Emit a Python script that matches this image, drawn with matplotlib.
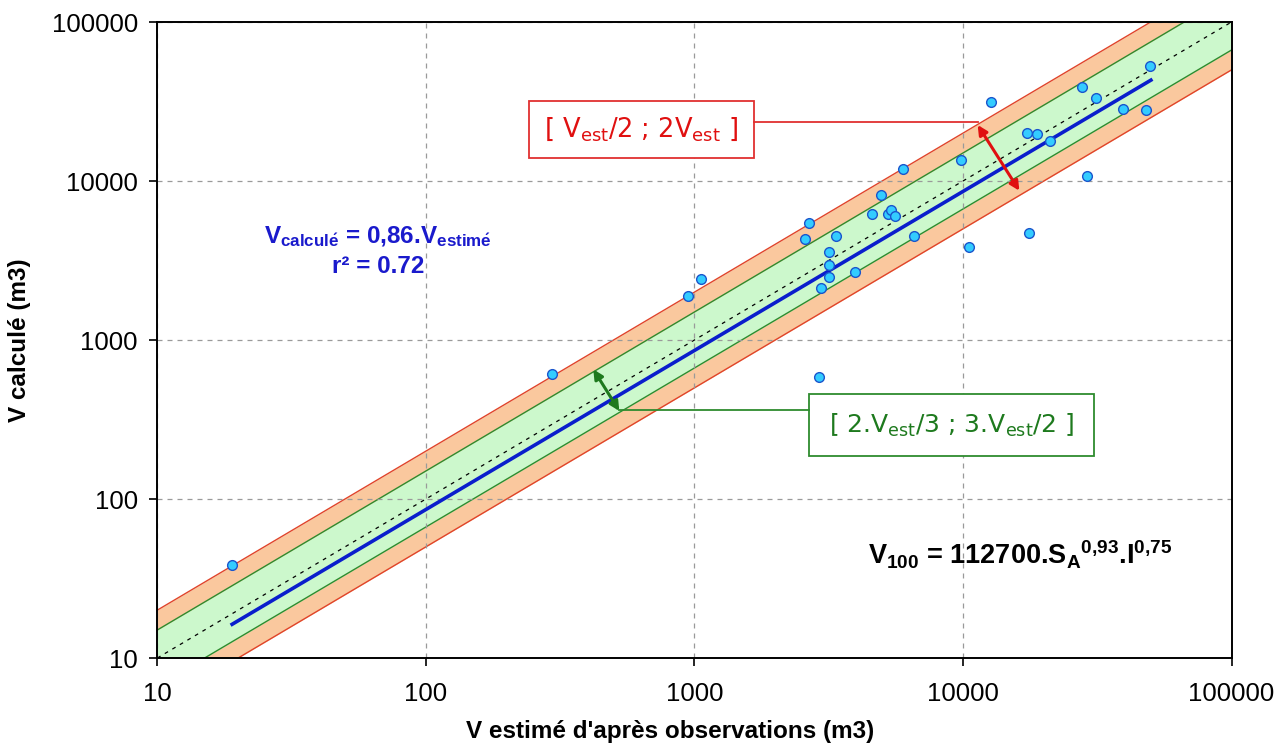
import numpy as np
import matplotlib
matplotlib.use("Agg")
import matplotlib.pyplot as plt
from matplotlib.patches import Rectangle

plt.rcParams["font.family"] = ["Liberation Sans", "DejaVu Sans"]
plt.rcParams["mathtext.fontset"] = "custom"
plt.rcParams["mathtext.rm"] = "Liberation Sans"
plt.rcParams["mathtext.bf"] = "Liberation Sans:bold"
plt.rcParams["mathtext.it"] = "Liberation Sans:italic"

# observed vs computed volumes (m3)
v_est = [19, 296, 950, 1057, 2584, 2672, 2958, 2900, 3170, 3184, 3184, 3373,
         3963, 4580, 4960, 5240, 5390, 5590, 5957, 6545, 9830, 10520, 12700,
         17380, 17580, 18840, 21130, 27730, 28970, 31330, 39600, 47860, 49890]
v_calc = [38.5, 610, 1900, 2420, 4340, 5420, 2113, 585, 2964, 3575, 2500, 4510,
          2666, 6220, 8170, 6200, 6580, 6030, 11850, 4510, 13600, 3866, 31550,
          20140, 4690, 19680, 17910, 39170, 10740, 33440, 28510, 27990, 52850]

# regression V_calc = 0.86 V_est
fit_x = [19, 50100]
fit_y = [16.3, 43100]

# envelope lines (factor on V_est)
band_x = np.array([10, 100000])
outer = (0.5, 2.0)
inner = (2 / 3, 1.5)

ticks = [10, 100, 1000, 10000, 100000]
tick_labels = ["10", "100", "1000", "10000", "100000"]

fig = plt.figure(figsize=(12.87, 7.51), dpi=100)
ax = fig.add_axes([0.1222, 0.1238, 0.8347, 0.8469])
ax.set_xscale("log")
ax.set_yscale("log")

ax.fill_between(band_x, band_x * outer[0], band_x * outer[1], color="#FAC89E", lw=0, zorder=1)
ax.fill_between(band_x, band_x * inner[0], band_x * inner[1], color="#CCF8CC", lw=0, zorder=1.1)
for f in outer:
    ax.plot(band_x, band_x * f, color="#E0442A", lw=1.0, zorder=2)
for f in inner:
    ax.plot(band_x, band_x * f, color="#2E8B2E", lw=1.0, zorder=2)
ax.plot(band_x, band_x, color="black", lw=0.9, ls=(0, (3, 4)), zorder=2.5)

ax.grid(True, which="major", color="#9a9a9a", ls=(0, (4, 4)), lw=0.9, zorder=1.5)
ax.set_axisbelow(False)
for gl in ax.get_xgridlines() + ax.get_ygridlines():
    gl.set_zorder(1.5)

ax.plot(fit_x, fit_y, color="#0A1ECC", lw=2.6, zorder=3)
ax.plot(v_est, v_calc, "o", ms=7, mfc="#33CCFF", mec="#1A55CC", mew=1.0, zorder=4)

ax.set_xlim(10, 100000)
ax.set_ylim(10, 100000)
ax.set_xticks(ticks)
ax.set_xticklabels(tick_labels)
ax.set_yticks(ticks)
ax.set_yticklabels(tick_labels)
ax.minorticks_off()
ax.tick_params(axis="both", direction="out", length=6, width=1.2, labelsize=18.5, colors="black")
ax.tick_params(axis="x", pad=11)
ax.tick_params(axis="y", pad=8)
for s in ax.spines.values():
    s.set_linewidth(1.4)
    s.set_color("black")
    s.set_zorder(10)

ax.set_xlabel("V estimé d'après observations (m3)", fontsize=17.5, fontweight="bold")
ax.set_ylabel("V calculé (m3)", fontsize=17.5, fontweight="bold")
ax.xaxis.set_label_coords(0.477, -0.097)
ax.yaxis.set_label_coords(-0.118, 0.5)

# regression text
ax.text(0.2055, 0.662, r"$\mathbf{V_{calcul\acute{e}}}$ = 0,86.$\mathbf{V_{estim\acute{e}}}$",
        transform=ax.transAxes, ha="center", va="center", fontsize=17.5, fontweight="bold",
        color="#1A1ACC", zorder=6)
ax.text(0.2055, 0.6153, "r² = 0.72", transform=ax.transAxes, ha="center", va="center",
        fontsize=17.5, fontweight="bold", color="#1A1ACC", zorder=6)

ax.text(0.803, 0.162, r"$\mathbf{V_{100}}$ = 112700.$\mathbf{S_{A}{}^{0{,}93}}$.$\mathbf{I^{0{,}75}}$",
        transform=ax.transAxes, ha="center", va="center", fontsize=19.5, fontweight="bold",
        color="black", zorder=6)

# red envelope label
ax.add_patch(Rectangle((0.3457, 0.7862), 0.2098, 0.0896, transform=ax.transAxes,
                       fc="white", ec="#E03030", lw=1.3, zorder=6))
ax.text(0.4506, 0.831, r"[ V$_{\mathrm{est}}$/2 ; 2V$_{\mathrm{est}}$ ]", transform=ax.transAxes,
        ha="center", va="center", fontsize=18.5, color="#E01010", family="DejaVu Sans",
        math_fontfamily="dejavusans", zorder=7)
ax.plot([0.5555, 0.7637], [0.8428, 0.8428], transform=ax.transAxes, color="#E03030", lw=1.3, zorder=6)
ax.annotate("", xy=(0.8025, 0.7347), xytext=(0.7637, 0.8381), xycoords="axes fraction",
            arrowprops=dict(arrowstyle="<|-|>", color="#E01010", lw=2.2, mutation_scale=14,
                            shrinkA=0, shrinkB=0), zorder=6)

# green envelope label
ax.add_patch(Rectangle((0.6067, 0.3176), 0.2651, 0.0975, transform=ax.transAxes,
                       fc="white", ec="#2E8B2E", lw=1.3, zorder=6))
ax.text(0.7393, 0.3664, r"[ 2.V$_{\mathrm{est}}$/3 ; 3.V$_{\mathrm{est}}$/2 ]", transform=ax.transAxes,
        ha="center", va="center", fontsize=18, color="#1E7A1E", family="DejaVu Sans",
        math_fontfamily="dejavusans", zorder=7)
ax.plot([0.4301, 0.6067], [0.3899, 0.3899], transform=ax.transAxes, color="#2E8B2E", lw=1.3, zorder=6)
ax.annotate("", xy=(0.4301, 0.3884), xytext=(0.4059, 0.4539), xycoords="axes fraction",
            arrowprops=dict(arrowstyle="<|-|>", color="#1E7A1E", lw=2.2, mutation_scale=14,
                            shrinkA=0, shrinkB=0), zorder=6)

fig.savefig("out.png", dpi=100)
